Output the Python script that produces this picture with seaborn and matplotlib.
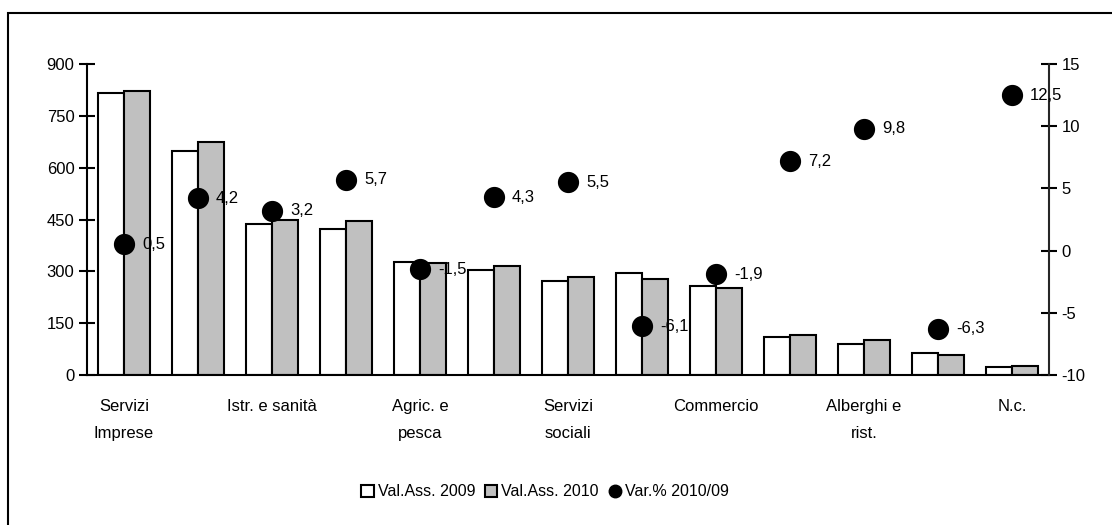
import pandas as pd
import matplotlib.pyplot as plt
import seaborn as sns
from matplotlib.patches import Rectangle, Patch
from matplotlib.lines import Line2D

sns.set_style('white')
plt.rcParams['font.family'] = ['Liberation Sans', 'DejaVu Sans']
plt.rcParams['axes.unicode_minus'] = False
plt.rcParams['text.color'] = 'black'
plt.rcParams['xtick.color'] = 'black'
plt.rcParams['ytick.color'] = 'black'

# Dati
val_2009 = [817, 647, 436, 422, 327, 304, 271, 296, 258, 111, 91, 64, 22]
val_2010 = [821, 673, 448, 446, 323, 316, 285, 278, 252, 117, 100, 59, 27]
var_pct = [0.5, 4.2, 3.2, 5.7, -1.5, 4.3, 5.5, -6.1, -1.9, 7.2, 9.8, -6.3, 12.5]
tick_labels = ['Servizi\nImprese', 'Istr. e sanità', 'Agric. e\npesca', 'Servizi\nsociali',
               'Commercio', 'Alberghi e\nrist.', 'N.c.']
series = ['Val.Ass. 2009', 'Val.Ass. 2010']

n = len(val_2009)
df = pd.DataFrame({
    'pos': list(range(n)) * 2,
    'valore': val_2009 + val_2010,
    'serie': [series[0]] * n + [series[1]] * n,
})

fs = 12

fig = plt.figure(figsize=(11.12, 5.25), dpi=100)
ax = fig.add_axes([87/1112, 1 - 375/525, (1049-87)/1112, (375-64)/525])

sns.barplot(data=df, x='pos', y='valore', hue='serie', palette=['white', '#c0c0c0'],
            width=0.69, edgecolor='black', linewidth=1.5, ax=ax, legend=False)
ax.set_xlim(-0.5, n - 0.5)
ax.set_ylim(0, 900)
ax.set_yticks(range(0, 901, 150))
ax.set_xlabel('')
ax.set_ylabel('')
for s in ['top', 'right']:
    ax.spines[s].set_visible(False)
for s in ['left', 'bottom']:
    ax.spines[s].set_linewidth(1.5)
    ax.spines[s].set_color('black')

# tacche ai confini delle categorie, etichette ogni due categorie
ax.set_xticks([i - 0.5 for i in range(n + 1)])
ax.set_xticklabels([])
ax.set_xticks(list(range(0, n, 2)), minor=True)
ax.set_xticklabels(tick_labels, minor=True, fontsize=fs, linespacing=2.05, va='top')
ax.tick_params(axis='x', which='major', direction='inout', length=10, width=1.5, color='black')
ax.tick_params(axis='x', which='minor', length=0, pad=17)
ax.tick_params(axis='y', direction='inout', length=12, width=1.5, color='black', labelsize=fs, pad=3)

# asse destro: variazione percentuale
ax2 = ax.twinx()
sns.scatterplot(x=list(range(n)), y=var_pct, color='black', s=200, edgecolor='black', ax=ax2, zorder=5)
ax2.set_ylim(-10, 15)
ax2.set_yticks(range(-10, 16, 5))
for s in ['top', 'left', 'bottom']:
    ax2.spines[s].set_visible(False)
ax2.spines['right'].set_linewidth(1.5)
ax2.tick_params(axis='y', direction='inout', length=12, width=1.5, color='black', labelsize=fs, pad=3)
for i, v in enumerate(var_pct):
    ax2.annotate(f'{v:.1f}'.replace('.', ','), (i, v), xytext=(13, 0), textcoords='offset points',
                 va='center', ha='left', fontsize=fs)
ax2.set_xlim(-0.5, n - 0.5)

# legenda
handles = [Patch(facecolor='white', edgecolor='black', linewidth=1.5, label=series[0]),
           Patch(facecolor='#c0c0c0', edgecolor='black', linewidth=1.5, label=series[1]),
           Line2D([], [], marker='o', color='black', linestyle='', markersize=9, label='Var.% 2010/09')]
fig.legend(handles=handles, loc='center', bbox_to_anchor=(545/1112, 1 - 492/525), ncol=3,
           frameon=False, fontsize=fs - 0.5, handlelength=0.8, handleheight=0.8, handletextpad=0.25,
           columnspacing=0.6)

# cornice
fig.patches.append(Rectangle((8/1112, -0.05), 1.2, 1 - 13/525 + 0.05, transform=fig.transFigure,
                             fill=False, edgecolor='black', linewidth=1.5))

fig.savefig('out.png', dpi=100)
